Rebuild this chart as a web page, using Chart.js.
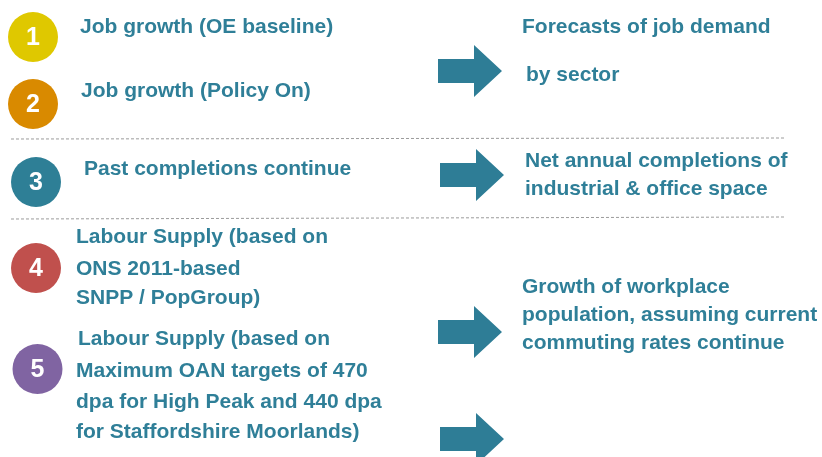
<!DOCTYPE html>
<html>
<head>
<meta charset="utf-8">
<script src="https://cdn.jsdelivr.net/npm/chart.js@4"></script>
<style>
  html, body { margin: 0; padding: 0; background: #ffffff; }
  #flowChart { display: block; }
</style>
</head>
<body>
<canvas id="flowChart" width="822" height="457"></canvas>
<script>
// step badges
const stepNumbers = ['1', '2', '3', '4', '5'];
const stepColors = ['#dfc800', '#d98a00', '#2e7f96', '#c0504d', '#8064a2'];
const stepX = [33, 33, 36, 36, 37.5];
const stepY = [37, 104, 182, 268, 369];

// left-hand scenario labels (one entry per line)
const scenarioLines = [
  'Job growth (OE baseline)',
  'Job growth (Policy On)',
  'Past completions continue',
  'Labour Supply (based on',
  'ONS 2011-based',
  'SNPP / PopGroup)',
  'Labour Supply (based on',
  'Maximum OAN targets of 470',
  'dpa for High Peak and 440 dpa',
  'for Staffordshire Moorlands)'
];
const scenarioX = [80, 81, 84, 76, 76, 76, 78, 76, 76, 76];
const scenarioY = [33, 97, 175, 243, 275, 304, 345, 377, 408, 438];

// right-hand outcome labels
const outcomeLines = [
  'Forecasts of job demand',
  'by sector',
  'Net annual completions of',
  'industrial & office space',
  'Growth of workplace',
  'population, assuming current',
  'commuting rates continue'
];
const outcomeX = [522, 526, 525, 525, 522, 522, 522];
const outcomeY = [33, 81, 167, 195, 293, 321, 349];

// arrows
const arrowX = [470, 472, 470, 472];
const arrowY = [71, 175, 332, 439];

// dashed separators
const dividerY = [[139, 138], [219, 217]];
const dividerX = [11, 784];

const TEXT_COLOR = '#2f7f98';
const ARROW_COLOR = '#2e7d96';
const FONT = 'bold 21px "Liberation Sans", Arial, sans-serif';

function makeArrow() {
  const c = document.createElement('canvas');
  c.width = 64;
  c.height = 52;
  const g = c.getContext('2d');
  g.fillStyle = ARROW_COLOR;
  g.beginPath();
  g.moveTo(0, 14);
  g.lineTo(36, 14);
  g.lineTo(36, 0);
  g.lineTo(64, 26);
  g.lineTo(36, 52);
  g.lineTo(36, 38);
  g.lineTo(0, 38);
  g.closePath();
  g.fill();
  return c;
}

const labelPlugin = {
  id: 'labels',
  afterDatasetsDraw(chart) {
    const ctx = chart.ctx;
    const xs = chart.scales.x;
    const ys = chart.scales.y;
    ctx.save();

    ctx.fillStyle = '#ffffff';
    ctx.font = 'bold 25px "Liberation Sans", Arial, sans-serif';
    ctx.textAlign = 'center';
    ctx.textBaseline = 'middle';
    stepNumbers.forEach(function (n, i) {
      ctx.fillText(n, xs.getPixelForValue(stepX[i]), ys.getPixelForValue(stepY[i]) + 1);
    });

    ctx.fillStyle = TEXT_COLOR;
    ctx.font = FONT;
    ctx.textAlign = 'left';
    ctx.textBaseline = 'alphabetic';
    scenarioLines.forEach(function (t, i) {
      ctx.fillText(t, xs.getPixelForValue(scenarioX[i]), ys.getPixelForValue(scenarioY[i]));
    });
    outcomeLines.forEach(function (t, i) {
      ctx.fillText(t, xs.getPixelForValue(outcomeX[i]), ys.getPixelForValue(outcomeY[i]));
    });
    ctx.restore();
  }
};

document.addEventListener('DOMContentLoaded', function () {
  const ctx = document.getElementById('flowChart').getContext('2d');
  const arrowImg = makeArrow();

  const dividers = dividerY.map(function (pair) {
    return {
      type: 'line',
      data: [{ x: dividerX[0], y: pair[0] }, { x: dividerX[1], y: pair[1] }],
      borderColor: '#9b9b9b',
      borderWidth: 1,
      borderDash: [3, 2],
      pointRadius: 0,
      fill: false,
      clip: false
    };
  });

  new Chart(ctx, {
    type: 'scatter',
    data: {
      datasets: [
        {
          data: stepX.map(function (x, i) { return { x: x, y: stepY[i] }; }),
          backgroundColor: stepColors,
          borderWidth: 0,
          pointRadius: 25,
          pointHoverRadius: 25,
          clip: false
        },
        {
          data: arrowX.map(function (x, i) { return { x: x, y: arrowY[i] }; }),
          pointStyle: arrowImg,
          pointRadius: 26,
          clip: false
        }
      ].concat(dividers)
    },
    options: {
      responsive: false,
      animation: false,
      events: [],
      layout: { padding: 0, autoPadding: false },
      plugins: {
        legend: { display: false },
        tooltip: { enabled: false }
      },
      scales: {
        x: { type: 'linear', min: 0, max: 822, display: false },
        y: { type: 'linear', min: 0, max: 457, reverse: true, display: false }
      }
    },
    plugins: [labelPlugin]
  });
});
</script>
</body>
</html>
